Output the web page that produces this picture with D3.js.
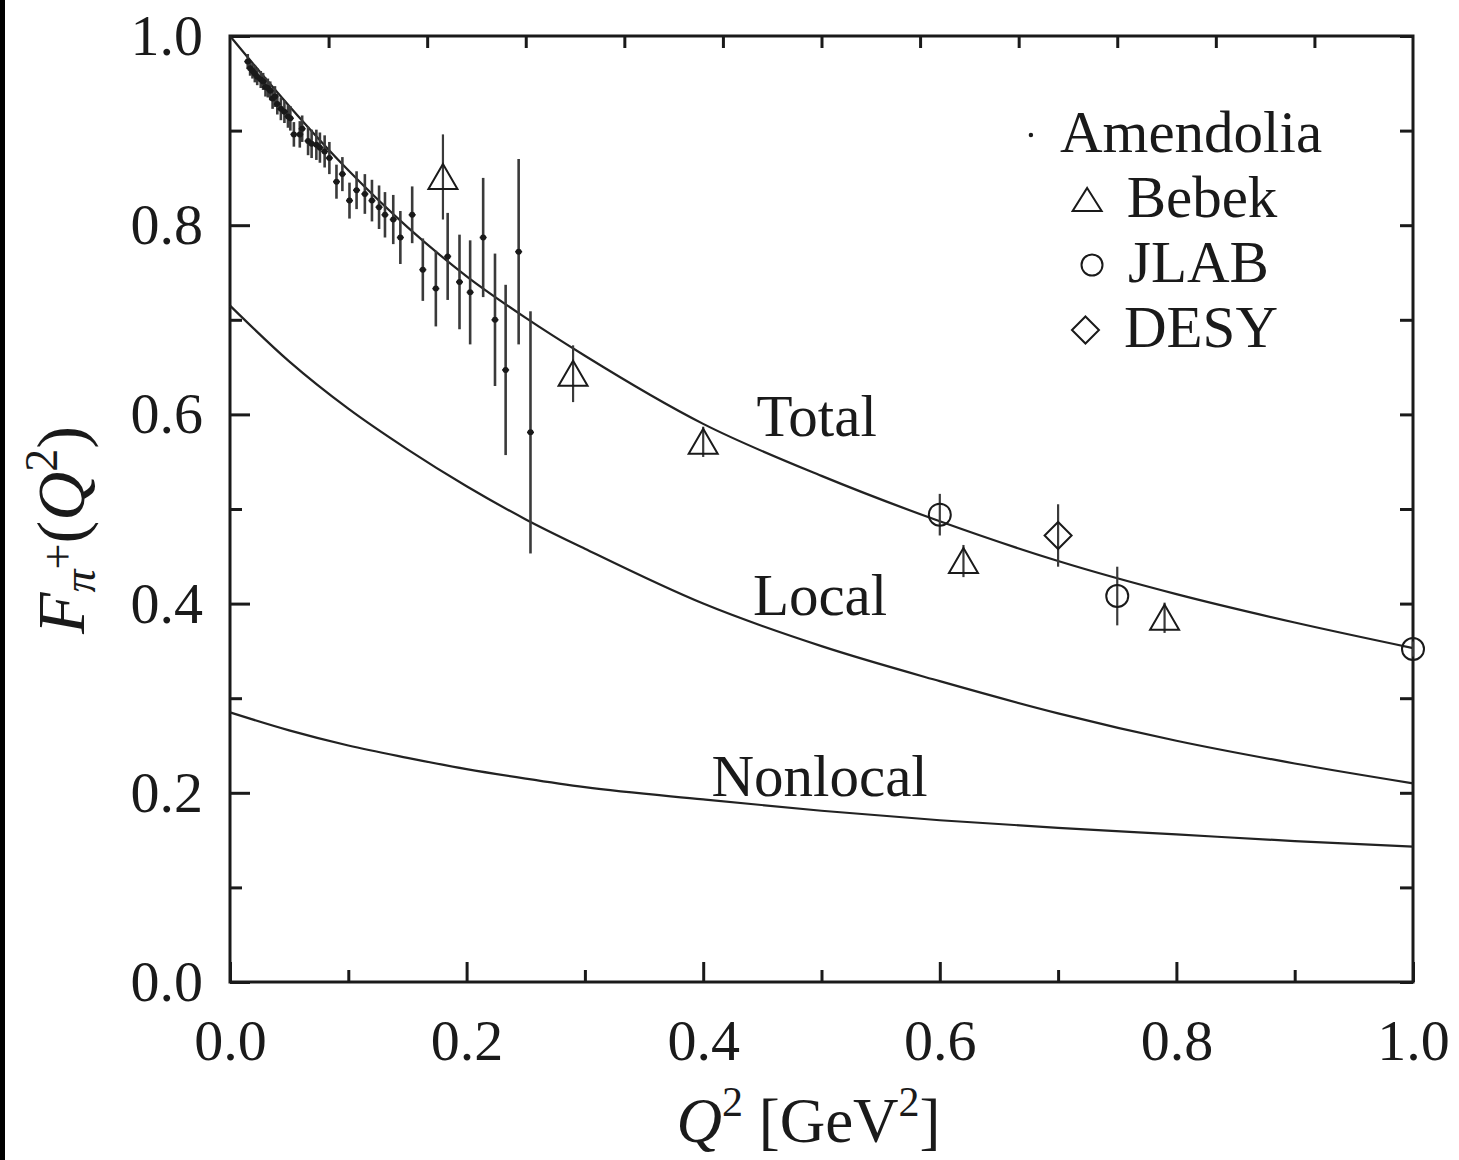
<!DOCTYPE html>
<html>
<head>
<meta charset="utf-8">
<script src="https://cdn.jsdelivr.net/npm/d3@7"></script>
<style>
  body { margin: 0; background: #fff; }
  text { font-family: "Liberation Serif", "DejaVu Serif", serif; fill: #1a1a1a; }
</style>
</head>
<body>
<div class="chart"></div>
<script>
var svgWidth = 1459;
var svgHeight = 1160;

var margin = { top: 36, right: 46, bottom: 178, left: 230 };
var width = svgWidth - margin.left - margin.right;
var height = svgHeight - margin.top - margin.bottom;

// theory curves
var curveQ2 = [0, 0.05, 0.1, 0.15, 0.2, 0.25, 0.3, 0.4, 0.5, 0.6, 0.7, 0.8, 0.9, 1.0];
var totalF = [1.0, 0.926, 0.858, 0.798, 0.746, 0.702, 0.662, 0.590, 0.535, 0.487, 0.445, 0.410, 0.380, 0.353];
var localF = [0.715, 0.656, 0.606, 0.563, 0.524, 0.489, 0.458, 0.400, 0.355, 0.318, 0.284, 0.255, 0.231, 0.210];
var nonlocalF = [0.285, 0.266, 0.250, 0.237, 0.225, 0.215, 0.206, 0.193, 0.181, 0.171, 0.163, 0.156, 0.149, 0.143];

// Amendolia data: Q2, F, error
var amendoliaQ2 = [0.015, 0.017, 0.019, 0.021, 0.023, 0.026, 0.028, 0.030, 0.032, 0.034, 0.036, 0.038, 0.040, 0.043,
  0.046, 0.049, 0.051, 0.054, 0.059, 0.061, 0.066, 0.069, 0.073, 0.076, 0.080, 0.084, 0.090, 0.095, 0.101, 0.107,
  0.114, 0.120, 0.126, 0.131, 0.138, 0.144, 0.154, 0.163, 0.174, 0.184, 0.194, 0.203, 0.214, 0.224, 0.233, 0.244, 0.254];
var amendoliaF = [0.973, 0.966, 0.963, 0.960, 0.957, 0.954, 0.952, 0.946, 0.945, 0.942, 0.934, 0.936, 0.928, 0.923,
  0.920, 0.915, 0.913, 0.896, 0.896, 0.902, 0.889, 0.886, 0.885, 0.882, 0.878, 0.871, 0.846, 0.854, 0.826, 0.837,
  0.833, 0.826, 0.819, 0.811, 0.806, 0.787, 0.811, 0.753, 0.733, 0.767, 0.740, 0.729, 0.787, 0.700, 0.647, 0.772, 0.581];
var amendoliaErr = [0.008, 0.008, 0.008, 0.009, 0.009, 0.009, 0.009, 0.010, 0.010, 0.010, 0.011, 0.011, 0.011, 0.012,
  0.012, 0.012, 0.013, 0.013, 0.014, 0.014, 0.015, 0.015, 0.016, 0.016, 0.017, 0.017, 0.018, 0.018, 0.019, 0.020,
  0.021, 0.022, 0.023, 0.024, 0.026, 0.028, 0.030, 0.033, 0.040, 0.046, 0.050, 0.055, 0.063, 0.070, 0.090, 0.098, 0.128];

var bebekQ2 = [0.18, 0.29, 0.40, 0.62, 0.79];
var bebekF = [0.851, 0.643, 0.571, 0.445, 0.385];
var bebekErr = [0.045, 0.030, 0.016, 0.017, 0.016];

var jlabQ2 = [0.60, 0.75, 1.00];
var jlabF = [0.494, 0.408, 0.352];
var jlabErr = [0.022, 0.031, 0.008];

var desyQ2 = [0.70];
var desyF = [0.472];
var desyErr = [0.033];

var legendLabels = ["Amendolia", "Bebek", "JLAB", "DESY"];
var yMajorTicks = [0, 0.2, 0.4, 0.6, 0.8, 1.0];
var yMinorTicks = [0.1, 0.3, 0.5, 0.7, 0.9];

var svg = d3.select(".chart")
  .append("svg")
  .attr("width", svgWidth)
  .attr("height", svgHeight);

// dark scan edge on the left
svg.append("rect").attr("x", 0).attr("y", 0).attr("width", 5).attr("height", svgHeight).attr("fill", "#000");

var chartGroup = svg.append("g")
  .attr("transform", `translate(${margin.left}, ${margin.top})`);

var xScale = d3.scaleLinear().domain([0, 1]).range([0, width]);
var yScale = d3.scaleLinear().domain([0, 1]).range([height, 0]);
var fmt = d3.format(".1f");

function styleAxis(g) {
  g.select(".domain").remove();
  g.selectAll("line").attr("stroke", "#1a1a1a").attr("stroke-width", 3);
  g.selectAll("text").style("font-size", "58px").attr("fill", "#1a1a1a");
}

// left axis
chartGroup.append("g")
  .call(d3.axisLeft(yScale).tickValues(yMajorTicks).tickSize(-20).tickPadding(27).tickFormat(fmt))
  .call(styleAxis);
chartGroup.append("g")
  .call(d3.axisLeft(yScale).tickValues(yMinorTicks).tickSize(-12).tickFormat(""))
  .call(styleAxis);

// bottom axis
chartGroup.append("g")
  .attr("transform", `translate(0, ${height})`)
  .call(d3.axisBottom(xScale).tickValues(yMajorTicks).tickSize(-20).tickPadding(37).tickFormat(fmt))
  .call(styleAxis);
chartGroup.append("g")
  .attr("transform", `translate(0, ${height})`)
  .call(d3.axisBottom(xScale).tickValues(yMinorTicks).tickSize(-12).tickFormat(""))
  .call(styleAxis);

// right axis
chartGroup.append("g")
  .attr("transform", `translate(${width}, 0)`)
  .call(d3.axisRight(yScale).tickValues(yMajorTicks.concat(yMinorTicks)).tickSize(-13).tickFormat(""))
  .call(styleAxis);

// top axis (ticks every 1/12)
chartGroup.append("g")
  .call(d3.axisTop(xScale).tickValues(d3.range(1, 12).map(i => i / 12)).tickSize(-12).tickFormat(""))
  .call(styleAxis);

// frame
chartGroup.append("rect")
  .attr("width", width).attr("height", height)
  .attr("fill", "none").attr("stroke", "#1a1a1a").attr("stroke-width", 3);

// curves
var line = d3.line()
  .x(d => xScale(d[0]))
  .y(d => yScale(d[1]))
  .curve(d3.curveMonotoneX);

[totalF, localF, nonlocalF].forEach(function(vals) {
  chartGroup.append("path")
    .datum(curveQ2.map((q, i) => [q, vals[i]]))
    .attr("d", line)
    .attr("fill", "none")
    .attr("stroke", "#222")
    .attr("stroke-width", 2.2);
});

// curve labels
var curveLabels = [["Total", 0.445, 0.577], ["Local", 0.442, 0.388], ["Nonlocal", 0.407, 0.197]];
chartGroup.selectAll(".curveLabel")
  .data(curveLabels)
  .enter()
  .append("text")
  .attr("x", d => xScale(d[1]))
  .attr("y", d => yScale(d[2]))
  .style("font-size", "59px")
  .text(d => d[0]);

// error bars
function errorBars(q2, f, err, w) {
  chartGroup.append("g").selectAll("line")
    .data(q2.map((q, i) => ({ q: q, f: f[i], e: err[i] })))
    .enter()
    .append("line")
    .attr("x1", d => xScale(d.q)).attr("x2", d => xScale(d.q))
    .attr("y1", d => yScale(d.f - d.e)).attr("y2", d => yScale(d.f + d.e))
    .attr("stroke", "#3a3a3a")
    .attr("stroke-width", w);
}
errorBars(amendoliaQ2, amendoliaF, amendoliaErr, 2.6);
errorBars(bebekQ2, bebekF, bebekErr, 2.2);
errorBars(jlabQ2, jlabF, jlabErr, 2.2);
errorBars(desyQ2, desyF, desyErr, 2.2);

// symbols
function triPath(cx, cy) { return `M${cx},${cy - 13}L${cx + 14.5},${cy + 12}L${cx - 14.5},${cy + 12}Z`; }
function diaPath(cx, cy) { return `M${cx},${cy - 13.5}L${cx + 13.5},${cy}L${cx},${cy + 13.5}L${cx - 13.5},${cy}Z`; }

var amendG = chartGroup.append("g").selectAll("g")
  .data(amendoliaQ2.map((q, i) => [q, amendoliaF[i]]))
  .enter()
  .append("g")
  .attr("transform", d => `translate(${xScale(d[0])}, ${yScale(d[1])})`);
amendG.append("circle").attr("r", 3).attr("fill", "#1a1a1a");
amendG.append("line").attr("x1", -3.5).attr("x2", 3.5).attr("stroke", "#1a1a1a").attr("stroke-width", 1.6);

chartGroup.append("g").selectAll("path")
  .data(bebekQ2.map((q, i) => [q, bebekF[i]]))
  .enter()
  .append("path")
  .attr("d", d => triPath(xScale(d[0]), yScale(d[1])))
  .attr("fill", "none").attr("stroke", "#1a1a1a").attr("stroke-width", 2);

chartGroup.append("g").selectAll("circle")
  .data(jlabQ2.map((q, i) => [q, jlabF[i]]))
  .enter()
  .append("circle")
  .attr("cx", d => xScale(d[0])).attr("cy", d => yScale(d[1]))
  .attr("r", 11).attr("fill", "none").attr("stroke", "#1a1a1a").attr("stroke-width", 2);

chartGroup.append("g").selectAll("path")
  .data(desyQ2.map((q, i) => [q, desyF[i]]))
  .enter()
  .append("path")
  .attr("d", d => diaPath(xScale(d[0]), yScale(d[1])))
  .attr("fill", "none").attr("stroke", "#1a1a1a").attr("stroke-width", 2);

// legend, each row centred
var legend = svg.append("g");
var rowBase = [152, 217, 282, 347];
var symbolWidth = [6, 29, 22, 27];
legendLabels.forEach(function(label, i) {
  var t = legend.append("text")
    .attr("y", rowBase[i])
    .style("font-size", "59px")
    .text(label);
  var tw = t.node().getComputedTextLength();
  var gap = i === 0 ? 26 : 25;
  var total = symbolWidth[i] + gap + tw;
  var left = 1175 - total / 2;
  t.attr("x", left + symbolWidth[i] + gap);
  var cx = left + symbolWidth[i] / 2;
  var cy = rowBase[i] - 17;
  if (i === 0) {
    legend.append("circle").attr("cx", cx).attr("cy", cy).attr("r", 2.2).attr("fill", "#1a1a1a");
  } else if (i === 1) {
    legend.append("path").attr("d", `M${cx},${cy - 12}L${cx + 14.5},${cy + 11}L${cx - 14.5},${cy + 11}Z`)
      .attr("fill", "none").attr("stroke", "#1a1a1a").attr("stroke-width", 2);
  } else if (i === 2) {
    legend.append("circle").attr("cx", cx).attr("cy", cy).attr("r", 10.5)
      .attr("fill", "none").attr("stroke", "#1a1a1a").attr("stroke-width", 2);
  } else {
    legend.append("path").attr("d", diaPath(cx, cy))
      .attr("fill", "none").attr("stroke", "#1a1a1a").attr("stroke-width", 2);
  }
});

// axis titles
var xTitle = svg.append("text")
  .attr("x", margin.left + width / 2 - 13)
  .attr("y", 1142)
  .attr("text-anchor", "middle")
  .style("font-size", "63px");
xTitle.append("tspan").style("font-style", "italic").text("Q");
xTitle.append("tspan").attr("dy", -26).style("font-size", "42px").text("2");
xTitle.append("tspan").attr("dy", 26).text("\u00a0[GeV");
xTitle.append("tspan").attr("dy", -26).style("font-size", "42px").text("2");
xTitle.append("tspan").attr("dy", 26).text("]");

var yTitle = svg.append("text")
  .attr("transform", "translate(84, 530) rotate(-90)")
  .attr("text-anchor", "middle")
  .style("font-size", "68px");
yTitle.append("tspan").style("font-style", "italic").text("F");
yTitle.append("tspan").attr("dy", 11).style("font-style", "italic").style("font-size", "46px").text("\u03c0");
yTitle.append("tspan").attr("dy", -22).style("font-size", "46px").text("+");
yTitle.append("tspan").attr("dy", 11).text("(");
yTitle.append("tspan").style("font-style", "italic").text("Q");
yTitle.append("tspan").attr("dy", -27).style("font-size", "46px").text("2");
yTitle.append("tspan").attr("dy", 27).text(")");
</script>
</body>
</html>
